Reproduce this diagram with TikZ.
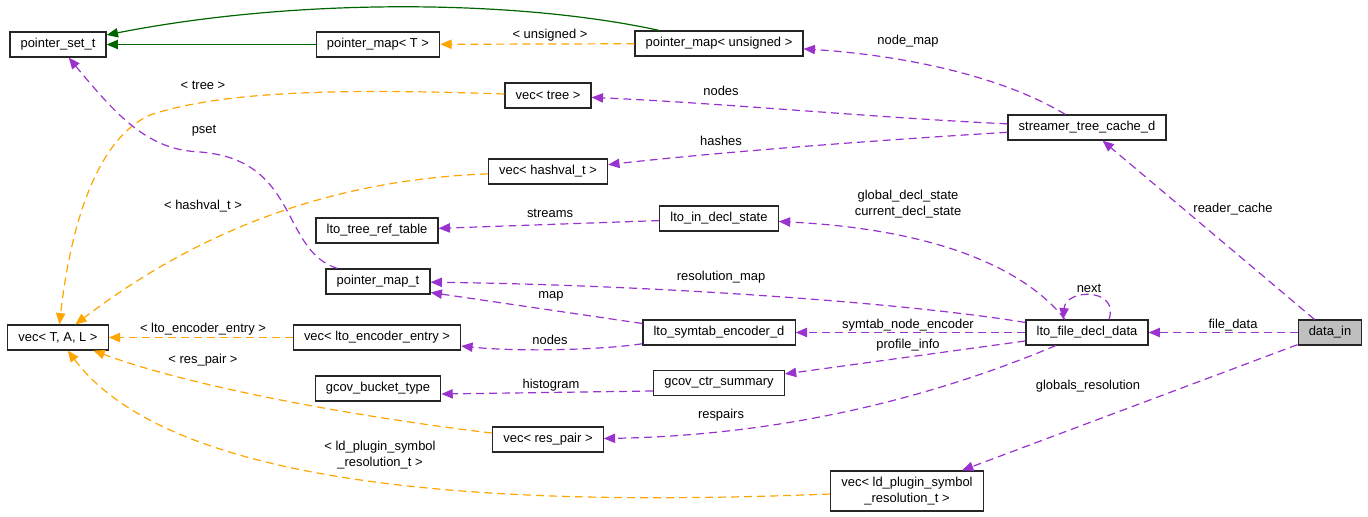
\documentclass[tikz,border=0pt]{standalone}
\usepackage{fontspec}
\setmainfont{Liberation Sans}
\usepackage{tikz}
\usepackage{xcolor}
\usetikzlibrary{arrows.meta,calc}
\definecolor{usecol}{HTML}{9A32CD}
\definecolor{tmplcol}{HTML}{FFA500}
\definecolor{inhcol}{HTML}{006400}

\begin{document}
\begin{tikzpicture}[x=0.75pt,y=-0.75pt,
		box/.style={draw=black!85,line width=0.9pt,minimum height=18.75pt,inner xsep=8pt,inner ysep=2pt,align=center,font=\fontsize{9.7}{11.5}\selectfont},
		lbl/.style={inner sep=0pt,align=center,font=\fontsize{9.7}{12}\selectfont},
		usage/.style={usecol,line width=0.9pt,dash pattern=on 6pt off 3.75pt,-{Triangle[length=8.5pt,width=7pt]}},
		tmpl/.style={tmplcol,line width=0.9pt,dash pattern=on 6pt off 3.75pt,-{Triangle[length=8.5pt,width=7pt]}},
		inh/.style={inhcol,line width=0.9pt,-{Triangle[length=8.5pt,width=7pt]}}]
			\useasboundingbox (0,0) rectangle (1368,517);
			% classes
			\node[box] (PST) at (58,44.5) {pointer\_set\_t};
			\node[box] (PMT) at (378,44.5) {pointer\_map< T >};
			\node[box] (PMU) at (719,43.5) {pointer\_map< unsigned >};
			\node[box] (VTR) at (548,95.5) {vec< tree >};
			\node[box] (STC) at (1087,127.5) {streamer\_tree\_cache\_d};
			\node[box] (VHT) at (548,171.5) {vec< hashval\_t >};
			\node[box] (LTR) at (377,230.5) {lto\_tree\_ref\_table};
			\node[box] (LID) at (719,218.5) {lto\_in\_decl\_state};
			\node[box] (PM) at (378,281.5) {pointer\_map\_t};
			\node[box] (VTAL) at (58,337.5) {vec< T, A, L >};
			\node[box] (VLE) at (377,337.5) {vec< lto\_encoder\_entry >};
			\node[box] (LSE) at (719,332.5) {lto\_symtab\_encoder\_d};
			\node[box] (LFD) at (1087,332.5) {lto\_file\_decl\_data};
			\node[box,fill=black!25] (DI) at (1330,332.5) {data\_in};
			\node[box] (GBT) at (378,388.5) {gcov\_bucket\_type};
			\node[box] (GCS) at (719,383) {gcov\_ctr\_summary};
			\node[box] (VRP) at (548,439.5) {vec< res\_pair >};
			\node[box,minimum height=30pt] (VLD) at (907,491) {vec< ld\_plugin\_symbol\\\_resolution\_t >};
			% inheritance
			\draw[inh] (PMT) -- (PST);
			\draw[inh] (PMU) .. controls (520,0) and (300,-3) .. (PST);
			% template instances
			\draw[tmpl] (PMU) -- (PMT);
			\draw[tmpl] (VTR) .. controls (330,88) and (220,92) .. (150,115) .. controls (95,140) and (70,230) .. (VTAL);
			\draw[tmpl] (VHT) .. controls (330,180) and (200,230) .. (VTAL);
			\draw[tmpl] (VLE) -- (VTAL);
			\draw[tmpl] (VRP) .. controls (380,420) and (200,390) .. (VTAL);
			\draw[tmpl] (VLD) .. controls (550,505) and (180,500) .. (VTAL);
			\node[lbl] (tunsigned) at (550,35) {< unsigned >};
			\node[lbl] (ttree) at (203,85) {< tree >};
			\node[lbl] (thashval) at (203,206) {< hashval\_t >};
			\node[lbl] (tencoder) at (203,329) {< lto\_encoder\_entry >};
			\node[lbl] (trespair) at (203,360) {< res\_pair >};
			\node[lbl] (tldplugin) at (380,455) {< ld\_plugin\_symbol\\\_resolution\_t >};
			% members
			\draw[usage] (STC) .. controls (1000,75) and (900,55) .. (PMU);
			\draw[usage] (STC) .. controls (880,118) and (720,103) .. (VTR);
			\draw[usage] (STC) .. controls (880,140) and (720,152) .. (VHT);
			\draw[usage] (LID) -- (LTR);
			\draw[usage] ($(LFD.north)+(-22,0)$) .. controls (1030,275) and (950,230) .. (LID);
			\draw[usage] (PM) .. controls (280,250) and (300,160) .. (200,152) .. controls (150,150) and (120,120) .. (PST);
			\draw[usage] (LFD) .. controls (900,302) and (650,285) .. (PM);
			\draw[usage] ($(LSE.west)+(0,-9)$) -- ($(PM.east)+(0,11)$);
			\draw[usage] (LSE) .. controls (600,350) and (520,352) .. (VLE);
			\draw[usage] (LFD) -- (LSE);
			\draw[usage] (LFD) -- (GCS);
			\draw[usage] ($(GCS.west)+(0,8)$) -- ($(GBT.east)+(0,5.5)$);
			\draw[usage] (LFD) .. controls (950,390) and (800,435) .. (VRP);
			\draw[usage] ($(LFD.north)+(22,0)$) .. controls (1120,288) and (1066,288) .. ($(LFD.north)+(-24,0)$);
			\draw[usage] (DI) -- (LFD);
			\draw[usage] (DI) -- (STC);
			\draw[usage] (DI) -- (VLD);
			\node[lbl] (lnodemap) at (908,41) {node\_map};
			\node[lbl] (lnodes) at (721,91) {nodes};
			\node[lbl] (lhashes) at (721,141) {hashes};
			\node[lbl] (ldeclstate) at (908,204) {global\_decl\_state\\current\_decl\_state};
			\node[lbl] (lstreams) at (550,213) {streams};
			\node[lbl] (lreader) at (1233,209) {reader\_cache};
			\node[lbl] (lresmap) at (721,277) {resolution\_map};
			\node[lbl] (lpset) at (204,131) {pset};
			\node[lbl] (lnext) at (1089,288) {next};
			\node[lbl] (lmap) at (551,296) {map};
			\node[lbl] (lsymtab) at (908,325) {symtab\_node\_encoder};
			\node[lbl] (lfiledata) at (1233,325) {file\_data};
			\node[lbl] (lencnodes) at (550,340) {nodes};
			\node[lbl] (lprofile) at (908,345) {profile\_info};
			\node[lbl] (lhisto) at (551,385) {histogram};
			\node[lbl] (lglobals) at (1088,386) {globals\_resolution};
			\node[lbl] (lrespairs) at (721,415) {respairs};
		\end{tikzpicture}
\end{document}
